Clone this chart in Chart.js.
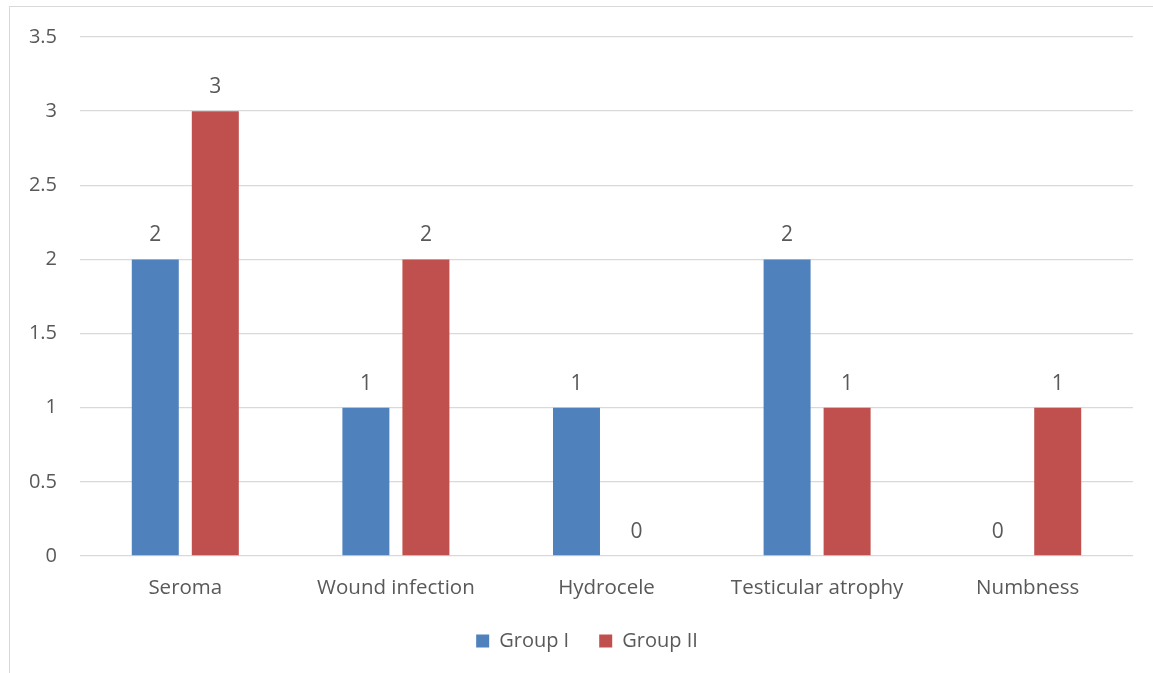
<!DOCTYPE html>
<html>
<head>
<meta charset="utf-8">
<script src="https://cdn.jsdelivr.net/npm/chart.js@4/dist/chart.umd.min.js"></script>
<style>
  html, body { margin: 0; padding: 0; background: #fff; overflow: hidden; width: 1153px; height: 673px; }
  #frame { position: absolute; left: 9px; top: 6px; width: 1150px; height: 680px; border: 1px solid #d9d9d9; box-sizing: border-box; }
  #wrap { position: absolute; left: 1px; top: -5px; width: 1144px; height: 667px; }
</style>
</head>
<body>
<div id="frame"><div id="wrap"><canvas id="c" width="1144" height="667"></canvas></div></div>
<script>
const categories = ["Seroma", "Wound infection", "Hydrocele", "Testicular atrophy", "Numbness"];
const groupI = [2, 1, 1, 2, 0];
const groupII = [3, 2, 0, 1, 1];
const seriesNames = ["Group I", "Group II"];
const yTicks = [0, 0.5, 1, 1.5, 2, 2.5, 3, 3.5];

const FONT = "'Open Sans', 'Liberation Sans', sans-serif";
const TXT = "#595959";

const valueLabels = {
  id: "valueLabels",
  afterDatasetsDraw(chart) {
    const ctx = chart.ctx;
    ctx.save();
    ctx.font = "21px " + FONT;
    ctx.fillStyle = TXT;
    ctx.textAlign = "center";
    ctx.textBaseline = "alphabetic";
    chart.data.datasets.forEach((ds, i) => {
      chart.getDatasetMeta(i).data.forEach((bar, j) => {
        ctx.fillText(String(ds.data[j]), bar.x, bar.y - 18);
      });
    });
    ctx.restore();
  }
};

const legendShift = {
  id: "legendShift",
  afterLayout(chart) {
    if (chart.legend) { chart.legend.left += 15; chart.legend.right += 15; }
  }
};

new Chart(document.getElementById("c"), {
  type: "bar",
  data: {
    labels: categories,
    datasets: [
      { label: seriesNames[0], data: groupI, backgroundColor: "#4F81BD" },
      { label: seriesNames[1], data: groupII, backgroundColor: "#C0504D" }
    ]
  },
  options: {
    responsive: false,
    animation: false,
    devicePixelRatio: 1,
    categoryPercentage: 0.57,
    barPercentage: 0.783,
    layout: { padding: { left: 0, right: 22, top: 23, bottom: 8 } },
    plugins: {
      legend: {
        position: "bottom",
        labels: { boxWidth: 13, boxHeight: 13, padding: 30, color: TXT, font: { family: FONT, size: 20 } }
      },
      tooltip: { enabled: false }
    },
    scales: {
      x: {
        grid: { display: false, drawTicks: false },
        border: { display: false },
        ticks: { color: TXT, font: { family: FONT, size: 20.5 }, padding: 20, maxRotation: 0 },
        afterFit(s) { s.height = 45; }
      },
      y: {
        min: 0, max: 3.5,
        afterBuildTicks(s) { s.ticks = yTicks.map(v => ({ value: v })); },
        grid: { color: "#d9d9d9", lineWidth: 1.3, drawTicks: false },
        border: { display: false },
        ticks: { color: TXT, font: { family: FONT, size: 20 }, padding: 23, callback: v => String(v) },
        afterFit(s) { s.width = 69; }
      }
    }
  },
  plugins: [valueLabels, legendShift]
});
</script>
</body>
</html>
